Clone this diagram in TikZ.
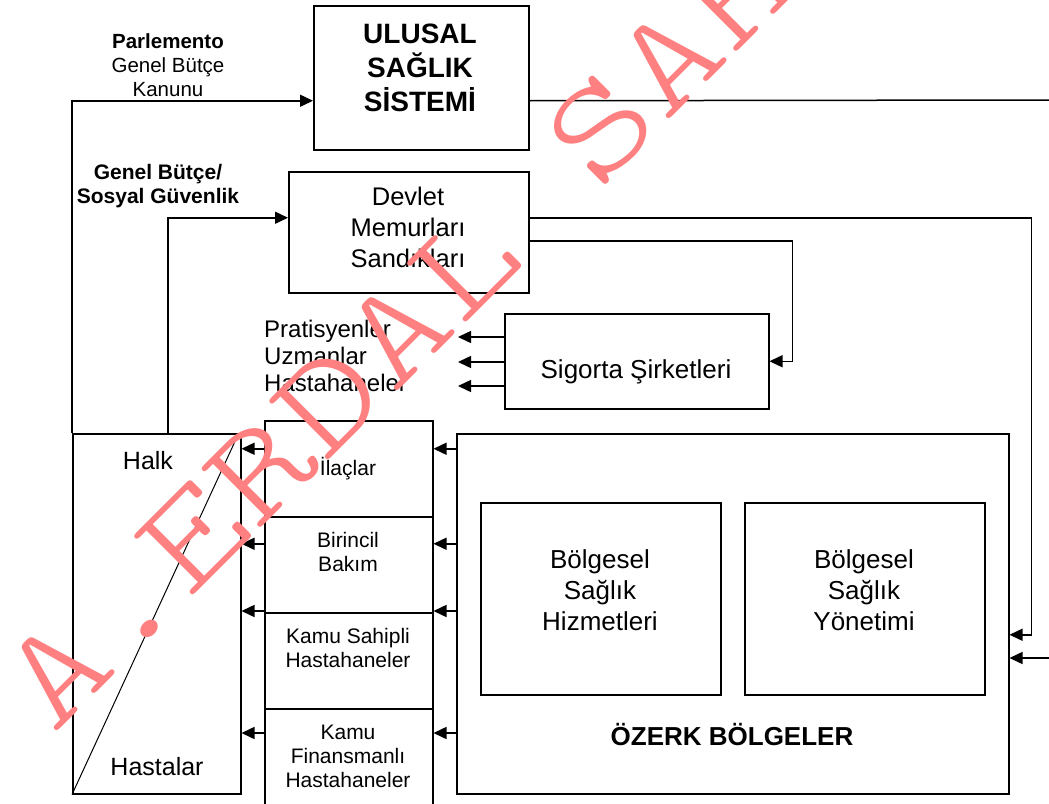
\documentclass[tikz,border=0pt]{standalone}
\usepackage{fontspec}
\usepackage{graphicx}
\setmainfont{Liberation Sans}
\newfontfamily\wmfont{lmmonolt10-regular.otf}
\usetikzlibrary{arrows.meta,calc}
\definecolor{wmcol}{RGB}{255,128,128}
\newcommand\mystrut{\rule{0pt}{1em}}
\begin{document}
\begin{tikzpicture}[x=1pt,y=-1pt,
  box/.style={draw, line width=1.5pt, inner sep=0pt, anchor=north west},
  lbl/.style={inner sep=0pt, align=center, anchor=north},
  arr/.style={line width=1.5pt, -{Triangle[length=13pt,width=12pt]}},
  ln/.style={line width=1.5pt},
  wm/.style={inner sep=0pt, text=wmcol, font=\wmfont\fontsize{138}{138}\selectfont, rotate=45, anchor=base}
  ]
\useasboundingbox (0,0) rectangle (1049,803);
\fill[white] (0,0) rectangle (1049,803);

% boxes
\node[box, minimum width=215pt, minimum height=144pt] (uls) at (313,5) {};
\node[box, minimum width=240pt, minimum height=121pt] (dm) at (288,171) {};
\node[box, minimum width=264pt, minimum height=95pt] (sig) at (504,313) {};
\node[box, minimum width=168pt, minimum height=360pt] (hb) at (72,433) {};
\node[box, minimum width=168pt, minimum height=96pt] (mc1) at (264,420) {};
\node[box, minimum width=168pt, minimum height=96pt] (mc2) at (264,516) {};
\node[box, minimum width=168pt, minimum height=96pt] (mc3) at (264,612) {};
\node[box, minimum width=168pt, minimum height=110pt] (mc4) at (264,708) {};
\node[box, minimum width=552pt, minimum height=360pt] (oz) at (456,433) {};
\node[box, minimum width=240pt, minimum height=192pt] (bsh) at (480,502) {};
\node[box, minimum width=240pt, minimum height=192pt] (bsy) at (744,502) {};

% texts
\node[lbl, font=\fontsize{28}{34}\selectfont\bfseries] (ulsT) at (420,15) {\mystrut ULUSAL\\SAĞLIK\\SİSTEMİ};
\node[lbl, font=\fontsize{20.5}{24}\selectfont] (parT) at (168,27.5) {\mystrut\textbf{Parlemento}\\Genel Bütçe\\Kanunu};
\node[lbl, font=\fontsize{21}{24}\selectfont\bfseries] (gbT) at (158,158) {\mystrut Genel Bütçe/\\Sosyal Güvenlik};
\node[lbl, font=\fontsize{25.5}{31}\selectfont] (dmT) at (408,179.5) {\mystrut Devlet\\Memurları\\Sandıkları};
\node[lbl, font=\fontsize{26}{31}\selectfont] (sigT) at (636,352) {\mystrut Sigorta Şirketleri};
\node[inner sep=0pt, align=left, anchor=north west, font=\fontsize{24}{27}\selectfont] (prT) at (264,313) {\mystrut Pratisyenler\\Uzmanlar\\Hastahaneler};
\node[lbl, font=\fontsize{21}{24}\selectfont] (mc1T) at (348,454) {\mystrut İlaçlar};
\node[lbl, font=\fontsize{21}{24}\selectfont] (mc2T) at (348,526) {\mystrut Birincil\\Bakım};
\node[lbl, font=\fontsize{21}{24}\selectfont] (mc3T) at (348,622) {\mystrut Kamu Sahipli\\Hastahaneler};
\node[lbl, font=\fontsize{21}{24}\selectfont] (mc4T) at (348,718) {\mystrut Kamu\\Finansmanlı\\Hastahaneler};
\node[lbl, font=\fontsize{25}{30}\selectfont] (halkT) at (148,444) {\mystrut Halk};
\node[lbl, font=\fontsize{25}{30}\selectfont] (hastT) at (157,750) {\mystrut Hastalar};
\node[lbl, font=\fontsize{26}{31}\selectfont] (bshT) at (600,542) {\mystrut Bölgesel\\Sağlık\\Hizmetleri};
\node[lbl, font=\fontsize{26}{31}\selectfont] (bsyT) at (864,542) {\mystrut Bölgesel\\Sağlık\\Yönetimi};
\node[lbl, font=\fontsize{26}{31}\selectfont\bfseries] (ozT) at (732,719) {\mystrut ÖZERK BÖLGELER};

% free ends
\coordinate (redgeA) at (1049,100);
\coordinate (redgeB) at (1049,658);
\coordinate (pr1) at (458,337);
\coordinate (pr2) at (458,362);
\coordinate (pr3) at (458,386);
\coordinate (a1) at ([yshift=20pt]mc1.east);
\coordinate (a2) at ([yshift=21pt]mc2.east);
\coordinate (a3) at ([yshift=1pt]mc3.north east);
\coordinate (a4) at ([yshift=-25pt]mc4.north east);

% connectors
\draw[arr] (hb.north west) |- ([yshift=-23pt]uls.west);
\draw[arr] ([xshift=96pt]hb.north west) |- ([yshift=14.5pt]dm.west);
\draw[ln] ([yshift=-23pt]uls.east) -- (redgeA);
\draw[arr] ([yshift=14.5pt]dm.east) -| ([xshift=22pt,yshift=-21pt]oz.east) -- ([yshift=-21pt]oz.east);
\draw[arr] ([yshift=-8.5pt]dm.east) -| ([xshift=23pt]sig.east) -- (sig.east);
\draw[arr] (redgeB) -- (oz.east |- redgeB);
\foreach \p in {pr1,pr2,pr3} {\draw[arr] (sig.west |- \p) -- (\p);}
\foreach \k in {1,...,4} {
  \draw[arr] (oz.west |- a\k) -- (a\k);
  \draw[arr] (mc1.west |- a\k) -- (hb.east |- a\k);
}
\draw[line width=1pt] (hb.south west) -- ([xshift=-4pt,yshift=-3pt]hb.north east);

% watermark
\foreach \c/\i in {A/0,./1,E/2,R/3,D/4,A/5,L/6,S/8,A/9,H/10} {
  \node[wm] (wm\i) at (87+68*\i, 702-68*\i) {\scalebox{1.3}[1]{\c}};
}
\end{tikzpicture}
\end{document}
